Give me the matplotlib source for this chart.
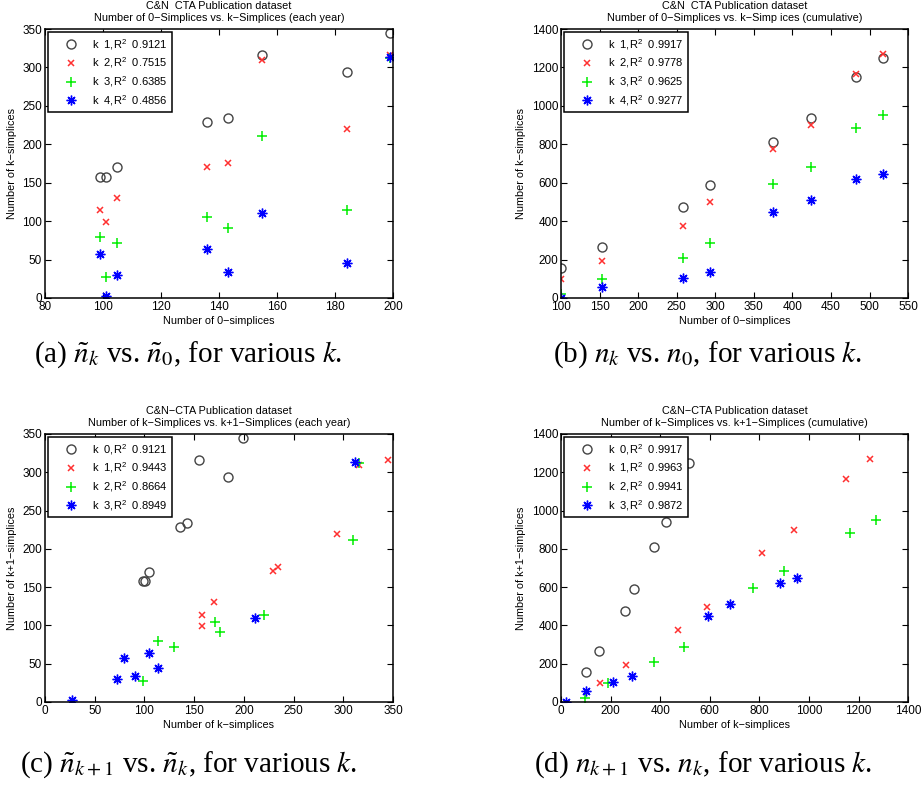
import numpy as np
import matplotlib.pyplot as plt

plt.rcParams['font.family'] = ['Liberation Sans', 'DejaVu Sans']
plt.rcParams['mathtext.fontset'] = 'custom'
plt.rcParams['mathtext.rm'] = 'Liberation Sans'
plt.rcParams['axes.unicode_minus'] = True

# simplex counts per year (n0 .. n4)
n0_year = [99, 101, 105, 136, 143, 155, 184, 199]
n1_year = [158, 158, 170, 229, 234, 316, 294, 345]
n2_year = [114, 99, 130, 171, 176, 310, 220, 316]
n3_year = [79, 27, 72, 105, 91, 211, 114, 312]
n4_year = [57, 3, 30, 64, 34, 110, 45, 314]

# cumulative simplex counts (n0 .. n4)
n0_cum = [100, 153, 258, 293, 375, 424, 482, 518]
n1_cum = [157, 264, 473, 588, 810, 939, 1148, 1247]
n2_cum = [97, 191, 377, 497, 776, 899, 1167, 1271]
n3_cum = [20, 99, 209, 285, 593, 683, 883, 951]
n4_cum = [2, 59, 106, 134, 447, 510, 619, 647]

r2_a = ['0.9121', '0.7515', '0.6385', '0.4856']
r2_b = ['0.9917', '0.9778', '0.9625', '0.9277']
r2_c = ['0.9121', '0.9443', '0.8664', '0.8949']
r2_d = ['0.9917', '0.9963', '0.9941', '0.9872']

styles = [
    dict(marker='o', mfc='none', mec='#444444', ms=6.5, mew=1.0),
    dict(marker='x', color='#ff3030', ms=4, mew=1.1),
    dict(marker='+', color='#00ee00', ms=7, mew=1.1),
    dict(marker=(8, 2, 0), color='#0000ff', ms=7, mew=1.0),
]

fig = plt.figure(figsize=(9.22, 7.86), dpi=100)

def panel(rect, pairs, ks, r2, title, xlabel, ylabel, xlim, ylim, xticks, yticks):
    ax = fig.add_axes(rect)
    for (x, y), k, r, st in zip(pairs, ks, r2, styles):
        ax.plot(x, y, ls='none', label=r'k  %d,R$^2$  %s' % (k, r), **st)
    ax.set_xlim(xlim)
    ax.set_ylim(ylim)
    ax.set_xticks(xticks)
    ax.set_yticks(yticks)
    ax.tick_params(direction='in', length=4, width=0.8, top=True, right=True,
                   labelsize=8.5, pad=2)
    for s in ax.spines.values():
        s.set_linewidth(1.1)
    ax.set_title(title, fontsize=7.8, pad=6, linespacing=1.25)
    ax.set_xlabel(xlabel, fontsize=7.8, labelpad=2)
    ax.set_ylabel(ylabel, fontsize=7.8, labelpad=4)
    leg = ax.legend(loc='upper left', fontsize=8, frameon=True, fancybox=False,
                    edgecolor='black', borderaxespad=0.3, labelspacing=0.35,
                    handlelength=3.2, handletextpad=0.3, borderpad=0.4,
                    framealpha=1)
    leg.get_frame().set_linewidth(1.1)
    return ax

panel([0.0488, 0.6209, 0.3774, 0.3422],
      [(n0_year, n1_year), (n0_year, n2_year), (n0_year, n3_year), (n0_year, n4_year)],
      [1, 2, 3, 4], r2_a,
      'C&N  CTA Publication dataset\nNumber of 0\u2212Simplices vs. k\u2212Simplices (each year)',
      'Number of 0\u2212simplices', 'Number of k\u2212simplices',
      (80, 200), (0, 350), np.arange(80, 201, 20), np.arange(0, 351, 50))

panel([0.6085, 0.6209, 0.3764, 0.3422],
      [(n0_cum, n1_cum), (n0_cum, n2_cum), (n0_cum, n3_cum), (n0_cum, n4_cum)],
      [1, 2, 3, 4], r2_b,
      'C&N  CTA Publication dataset\nNumber of 0\u2212Simplices vs. k\u2212Simp ices (cumulative)',
      'Number of 0\u2212simplices', 'Number of k\u2212simplices',
      (100, 550), (0, 1400), np.arange(100, 551, 50), np.arange(0, 1401, 200))

panel([0.0488, 0.1069, 0.3774, 0.341],
      [(n0_year, n1_year), (n1_year, n2_year), (n2_year, n3_year), (n3_year, n4_year)],
      [0, 1, 2, 3], r2_c,
      'C&N\u2212CTA Publication dataset\nNumber of k\u2212Simplices vs. k+1\u2212Simplices (each year)',
      'Number of k\u2212simplices', 'Number of k+1\u2212simplices',
      (0, 350), (0, 350), np.arange(0, 351, 50), np.arange(0, 351, 50))

panel([0.6085, 0.1069, 0.3764, 0.341],
      [(n0_cum, n1_cum), (n1_cum, n2_cum), (n2_cum, n3_cum), (n3_cum, n4_cum)],
      [0, 1, 2, 3], r2_d,
      'C&N\u2212CTA Publication dataset\nNumber of k\u2212Simplices vs. k+1\u2212Simplices (cumulative)',
      'Number of k\u2212simplices', 'Number of k+1\u2212simplices',
      (0, 1400), (0, 1400), np.arange(0, 1401, 200), np.arange(0, 1401, 200))

# sub-figure captions
cap = dict(fontsize=21, family='Liberation Serif', ha='center', va='center',
           math_fontfamily='stix')
fig.text(0.204, 0.549, r'(a) $\tilde{n}_k$ vs. $\tilde{n}_0$, for various $k$.', **cap)
fig.text(0.767, 0.549, r'(b) $n_k$ vs. $n_0$, for various $k$.', **cap)
fig.text(0.205, 0.027, r'(c) $\tilde{n}_{k+1}$ vs. $\tilde{n}_k$, for various $k$.', **cap)
fig.text(0.762, 0.027, r'(d) $n_{k+1}$ vs. $n_k$, for various $k$.', **cap)

fig.savefig('out.png', dpi=100)
